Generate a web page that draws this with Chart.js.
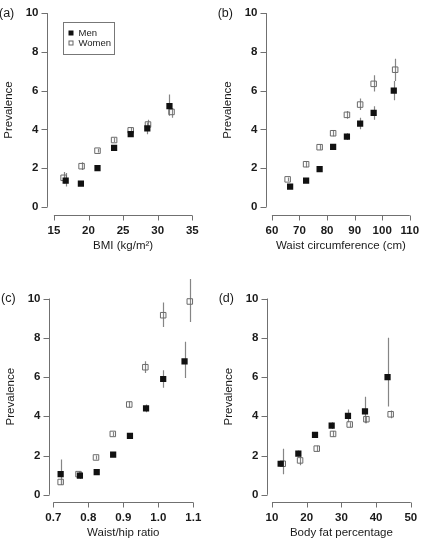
<!DOCTYPE html>
<html lang="en">
<head>
<meta charset="UTF-8">
<title>Prevalence by body size measure</title>
<script src="https://cdn.jsdelivr.net/npm/chart.js"></script>
<style>
  body { margin: 0; background: #fff; }
  canvas { position: absolute; }
</style>
</head>
<body>
<canvas id="pa" style="left:0;top:0" width="210" height="270"></canvas>
<canvas id="pb" style="left:210px;top:0" width="211" height="270"></canvas>
<canvas id="pc" style="left:0;top:270px" width="210" height="270"></canvas>
<canvas id="pd" style="left:210px;top:270px" width="211" height="270"></canvas>

<script>
// y ticks shared by all panels
const yTicks = [0, 2, 4, 6, 8, 10];

// (a) BMI
const bmiTicks = [15, 20, 25, 30, 35];
const bmiMen = [16.7, 18.9, 21.3, 23.7, 26.1, 28.5, 31.7];
const bmiMenPrev = [1.35, 1.2, 2.0, 3.05, 3.75, 4.05, 5.2];
const bmiMenLo = [1.05, 1.1, 1.9, 2.95, 3.6, 3.75, 4.7];
const bmiMenHi = [1.75, 1.3, 2.1, 3.15, 3.9, 4.35, 5.8];
const bmiWomen = [16.4, 19.0, 21.3, 23.7, 26.1, 28.6, 32.0];
const bmiWomenPrev = [1.5, 2.1, 2.9, 3.45, 3.95, 4.25, 4.9];
const bmiWomenLo = [1.2, 1.9, 2.8, 3.35, 3.7, 4.0, 4.6];
const bmiWomenHi = [1.8, 2.3, 3.0, 3.55, 4.1, 4.5, 5.1];

// (b) waist circumference
const waistTicks = [60, 70, 80, 90, 100, 110];
const waistMen = [66.6, 72.4, 77.3, 82.2, 87.2, 92.0, 96.9, 104.2];
const waistMenPrev = [1.05, 1.35, 1.95, 3.1, 3.62, 4.3, 4.85, 6.0];
const waistMenLo = [0.95, 1.25, 1.85, 2.95, 3.45, 4.0, 4.5, 5.5];
const waistMenHi = [1.15, 1.45, 2.05, 3.25, 3.8, 4.6, 5.2, 6.5];
const waistWomen = [65.7, 72.4, 77.3, 82.2, 87.2, 92.0, 96.9, 104.7];
const waistWomenPrev = [1.42, 2.2, 3.08, 3.8, 4.75, 5.28, 6.35, 7.08];
const waistWomenLo = [1.32, 2.05, 2.95, 3.65, 4.55, 5.0, 5.95, 6.5];
const waistWomenHi = [1.52, 2.35, 3.2, 3.95, 4.95, 5.6, 6.8, 7.65];

// (c) waist/hip ratio
const whrTicks = [0.7, 0.8, 0.9, 1.0, 1.1];
const whrTickLabels = ['0.7', '0.8', '0.9', '1.0', '1.1'];
const whrMen = [0.721, 0.776, 0.824, 0.871, 0.919, 0.965, 1.014, 1.075];
const whrMenPrev = [1.05, 0.97, 1.15, 2.05, 3.0, 4.4, 5.9, 6.8];
const whrMenLo = [0.55, 0.8, 1.05, 1.95, 2.9, 4.2, 5.45, 5.95];
const whrMenHi = [1.8, 1.15, 1.25, 2.15, 3.1, 4.6, 6.35, 7.8];
const whrWomen = [0.721, 0.772, 0.822, 0.870, 0.917, 0.963, 1.014, 1.090];
const whrWomenPrev = [0.65, 1.05, 1.9, 3.1, 4.6, 6.5, 9.15, 9.85];
const whrWomenLo = [0.5, 0.9, 1.8, 3.0, 4.45, 6.2, 8.55, 8.8];
const whrWomenHi = [0.8, 1.2, 2.0, 3.2, 4.75, 6.8, 9.8, 11.0];

// (d) body fat percentage
const fatTicks = [10, 20, 30, 40, 50];
const fatMen = [12.5, 17.6, 22.4, 27.2, 31.9, 36.8, 43.3];
const fatMenPrev = [1.58, 2.1, 3.05, 3.52, 4.02, 4.25, 6.0];
const fatMenLo = [1.45, 1.95, 2.9, 3.35, 3.7, 3.65, 4.5];
const fatMenHi = [1.7, 2.25, 3.2, 3.7, 4.35, 5.0, 8.0];
const fatWomen = [13.1, 18.1, 22.9, 27.6, 32.4, 37.2, 44.2];
const fatWomenPrev = [1.58, 1.75, 2.35, 3.1, 3.58, 3.85, 4.1];
const fatWomenLo = [1.05, 1.5, 2.2, 2.95, 3.45, 3.65, 3.9];
const fatWomenHi = [2.35, 2.0, 2.5, 3.25, 3.7, 4.0, 4.3];

const FONT = "'Liberation Sans', Arial, sans-serif";
const AXIS_COLOR = '#707070';
const BAR_COLOR = '#858585';
const TEXT_COLOR = '#1a1a1a';

function toPoints(xs, ys) {
    return xs.map((x, i) => ({ x: x, y: ys[i] }));
}

function drawErrorBars(chart, xs, lo, hi) {
    const ctx = chart.ctx;
    const sx = chart.scales.x, sy = chart.scales.y;
    ctx.save();
    ctx.strokeStyle = BAR_COLOR;
    ctx.lineWidth = 1.2;
    ctx.beginPath();
    xs.forEach((x, i) => {
        const px = Math.round(sx.getPixelForValue(x)) + 0.5;
        ctx.moveTo(px, sy.getPixelForValue(lo[i]));
        ctx.lineTo(px, sy.getPixelForValue(hi[i]));
    });
    ctx.stroke();
    ctx.restore();
}

function drawAxes(chart, p) {
    const ctx = chart.ctx;
    const sx = chart.scales.x, sy = chart.scales.y;
    const area = chart.chartArea;
    const ax = Math.round(area.left) + 0.5;
    const ay = Math.round(area.bottom) + 0.5;
    ctx.save();
    ctx.strokeStyle = AXIS_COLOR;
    ctx.lineWidth = 1;
    ctx.beginPath();
    // y axis
    ctx.moveTo(ax, sy.getPixelForValue(yTicks[0]));
    ctx.lineTo(ax, sy.getPixelForValue(yTicks[yTicks.length - 1]));
    yTicks.forEach(v => {
        const py = Math.round(sy.getPixelForValue(v)) + 0.5;
        ctx.moveTo(ax, py);
        ctx.lineTo(ax - 6, py);
    });
    // x axis
    ctx.moveTo(sx.getPixelForValue(p.xTicks[0]), ay);
    ctx.lineTo(sx.getPixelForValue(p.xTicks[p.xTicks.length - 1]), ay);
    p.xTicks.forEach(v => {
        const px = Math.round(sx.getPixelForValue(v)) + 0.5;
        ctx.moveTo(px, ay);
        ctx.lineTo(px, ay + 5);
    });
    ctx.stroke();

    ctx.fillStyle = TEXT_COLOR;
    ctx.font = 'bold 11.5px ' + FONT;
    ctx.textBaseline = 'middle';
    ctx.textAlign = 'right';
    yTicks.forEach(v => ctx.fillText(String(v), ax - 9, sy.getPixelForValue(v)));
    ctx.textAlign = 'center';
    p.xTicks.forEach((v, i) => {
        const lab = p.xLabels ? p.xLabels[i] : String(v);
        ctx.fillText(lab, sx.getPixelForValue(v), ay + 15);
    });

    // titles
    ctx.font = '11.5px ' + FONT;
    const xMid = (sx.getPixelForValue(p.xTicks[0]) + sx.getPixelForValue(p.xTicks[p.xTicks.length - 1])) / 2;
    ctx.fillText(p.xTitle, xMid, ay + 30);
    const yMid = (sy.getPixelForValue(0) + sy.getPixelForValue(10)) / 2;
    ctx.save();
    ctx.translate(area.left - 38, yMid);
    ctx.rotate(-Math.PI / 2);
    ctx.fillText('Prevalence', 0, 0);
    ctx.restore();

    // panel tag
    ctx.font = '12.5px ' + FONT;
    ctx.textAlign = 'left';
    ctx.fillText(p.tag, area.left - 48, sy.getPixelForValue(10));

    if (p.legend) {
        const lx = 63.5, ly = 22.5;
        ctx.strokeStyle = '#777';
        ctx.strokeRect(lx, ly, 51, 32);
        ctx.fillStyle = '#111';
        ctx.fillRect(lx + 5, ly + 8, 5, 5);
        ctx.strokeStyle = '#666';
        ctx.strokeRect(lx + 5.5, ly + 18.5, 4, 4);
        ctx.fillStyle = TEXT_COLOR;
        ctx.font = '9.5px ' + FONT;
        ctx.fillText('Men', lx + 15, ly + 10.5);
        ctx.fillText('Women', lx + 15, ly + 20.5);
    }
    ctx.restore();
}

function makePanel(id, p) {
    const cv = document.getElementById(id);
    new Chart(cv.getContext('2d'), {
        type: 'scatter',
        data: {
            datasets: [
                {
                    label: 'Men',
                    data: toPoints(p.men, p.menPrev),
                    pointStyle: 'rect',
                    pointRadius: 4.4,
                    backgroundColor: '#111',
                    borderColor: '#111',
                    borderWidth: 0
                },
                {
                    label: 'Women',
                    data: toPoints(p.women, p.womenPrev),
                    pointStyle: 'rect',
                    pointRadius: 3.9,
                    backgroundColor: 'rgba(0,0,0,0)',
                    borderColor: '#6a6a6a',
                    borderWidth: 1
                }
            ]
        },
        options: {
            responsive: false,
            animation: false,
            layout: {
                padding: {
                    left: p.area[0],
                    top: p.area[2],
                    right: cv.width - p.area[1],
                    bottom: cv.height - p.area[3]
                }
            },
            scales: {
                x: { type: 'linear', display: false, min: p.xRange[0], max: p.xRange[1] },
                y: { type: 'linear', display: false, min: p.yRange[0], max: p.yRange[1] }
            },
            plugins: { legend: { display: false }, tooltip: { enabled: false } }
        },
        plugins: [{
            id: 'rstyle',
            beforeDatasetsDraw(chart) {
                drawErrorBars(chart, p.men, p.menLo, p.menHi);
                drawErrorBars(chart, p.women, p.womenLo, p.womenHi);
            },
            afterDraw(chart) {
                drawAxes(chart, p);
            }
        }]
    });
}

makePanel('pa', {
    tag: '(a)', xTitle: 'BMI (kg/m\u00B2)', xTicks: bmiTicks, legend: true,
    area: [47, 199.2, 1.2, 215], xRange: [14, 36], yRange: [-0.42, 10.42],
    men: bmiMen, menPrev: bmiMenPrev, menLo: bmiMenLo, menHi: bmiMenHi,
    women: bmiWomen, womenPrev: bmiWomenPrev, womenLo: bmiWomenLo, womenHi: bmiWomenHi
});
makePanel('pb', {
    tag: '(b)', xTitle: 'Waist circumference (cm)', xTicks: waistTicks,
    area: [55.7, 207.6, 1.2, 215], xRange: [57.74, 112.26], yRange: [-0.42, 10.42],
    men: waistMen, menPrev: waistMenPrev, menLo: waistMenLo, menHi: waistMenHi,
    women: waistWomen, womenPrev: waistWomenPrev, womenLo: waistWomenLo, womenHi: waistWomenHi
});
makePanel('pc', {
    tag: '(c)', xTitle: 'Waist/hip ratio', xTicks: whrTicks, xLabels: whrTickLabels,
    area: [49, 197.6, 3.6, 232.3], xRange: [0.6877, 1.1123], yRange: [-0.385, 11.2],
    men: whrMen, menPrev: whrMenPrev, menLo: whrMenLo, menHi: whrMenHi,
    women: whrWomen, womenPrev: whrWomenPrev, womenLo: whrWomenLo, womenHi: whrWomenHi
});
makePanel('pd', {
    tag: '(d)', xTitle: 'Body fat percentage', xTicks: fatTicks,
    area: [56.7, 206.5, 3.6, 232.3], xRange: [8.48, 51.5], yRange: [-0.385, 11.2],
    men: fatMen, menPrev: fatMenPrev, menLo: fatMenLo, menHi: fatMenHi,
    women: fatWomen, womenPrev: fatWomenPrev, womenLo: fatWomenLo, womenHi: fatWomenHi
});
</script>
</body>
</html>
